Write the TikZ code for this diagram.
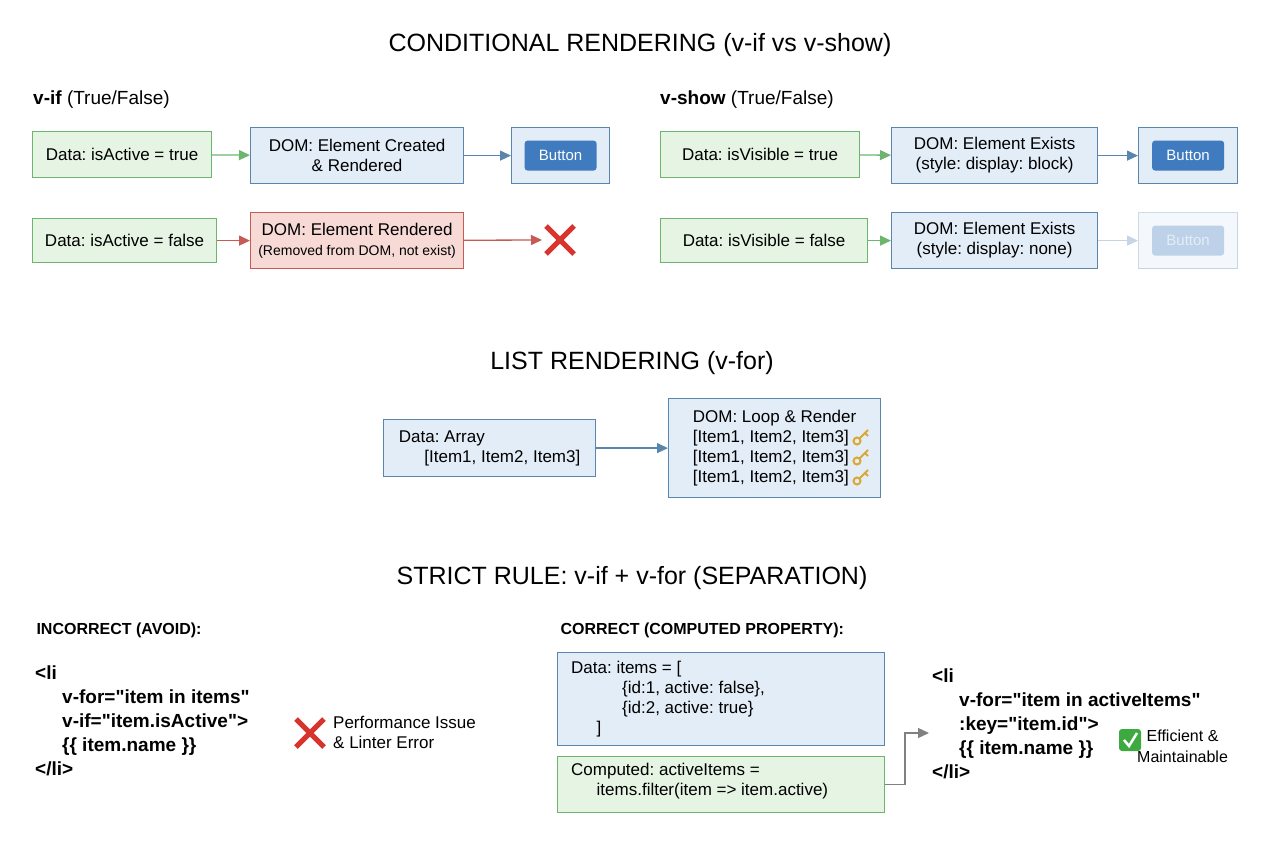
\documentclass[tikz,border=0pt]{standalone}
\usepackage{fontspec}
\setmainfont{Liberation Sans}
\newfontfamily\codefont{Liberation Sans}
\usetikzlibrary{arrows.meta,positioning,calc}
\definecolor{gfill}{HTML}{E6F4E4}
\definecolor{gdraw}{HTML}{6DB56F}
\definecolor{bfill}{HTML}{E3EDF7}
\definecolor{bdraw}{HTML}{5A86AE}
\definecolor{rfill}{HTML}{F7D9D6}
\definecolor{rdraw}{HTML}{C65A55}
\definecolor{btn}{HTML}{3F7BBE}
\definecolor{xred}{HTML}{D8342E}
\definecolor{keyc}{HTML}{D9A934}
\definecolor{okc}{HTML}{3DAA3F}
\newcommand{\redcross}[1]{\draw[xred,line width=5pt] ($(#1)+(-14,-14)$) -- ($(#1)+(14,14)$) ($(#1)+(-14,14)$) -- ($(#1)+(14,-14)$);}
\newcommand{\goldkey}[1]{\draw[keyc,line width=2pt] ($(#1)+(-4,4)$) circle (3.5) ($(#1)+(-1.5,1.5)$) -- ($(#1)+(7,-7)$) ($(#1)+(4,-4)$) -- ($(#1)+(7,-1)$);}
\frenchspacing
\begin{document}
\begin{tikzpicture}[x=1pt,y=-1pt,>={Triangle[length=11pt,width=10pt]}]
        \tikzset{gbox/.style={draw=gdraw, fill=gfill, line width=1.2pt, align=left, font=\fontsize{17}{20}\selectfont, inner sep=0pt, anchor=north west},
        bbox/.style={draw=bdraw, fill=bfill, line width=1.2pt, align=center, font=\fontsize{17}{20}\selectfont, inner sep=0pt, anchor=north west},
        rbox/.style={draw=rdraw, fill=rfill, line width=1.2pt, align=center, font=\fontsize{17}{20}\selectfont, inner sep=0pt, anchor=north west},
        btnin/.style={fill=btn, rounded corners=3pt, text=white, minimum width=72pt, minimum height=30pt, font=\fontsize{15}{18}\selectfont},
        title/.style={font=\fontsize{25}{30}\selectfont},
        head/.style={font=\bfseries\fontsize{16}{19}\selectfont, anchor=west},
        code/.style={font=\codefont\bfseries\fontsize{19}{24}\selectfont, align=left, anchor=north west, inner sep=0pt},
        small/.style={font=\fontsize{17}{20}\selectfont, align=left, inner sep=0pt}
        }
        \useasboundingbox (0,0) rectangle (1264,848);
        %% titles
        \node [title] (t1) at (640,45) {CONDITIONAL RENDERING (v-if vs v-show)};
        \node [title] (t2) at (632,363) {LIST RENDERING (v-for)};
        \node [title] (t3) at (632,578) {STRICT RULE: v-if + v-for (SEPARATION)};
        \node [anchor=west,font=\fontsize{19}{22}\selectfont,inner sep=0pt] (vif) at (33,100) {\textbf{v-if} (True/False)};
        \node [anchor=west,font=\fontsize{19}{22}\selectfont,inner sep=0pt] (vshow) at (660,100) {\textbf{v-show} (True/False)};

%% v-if
        \node [gbox, minimum width=179pt, minimum height=46pt] (ifT) at (32,131) {Data: isActive = true};
        \node [bbox, minimum width=213pt, minimum height=56pt] (ifDom) at (250,127) {DOM: Element Created\\ \& Rendered};
        \node [bbox, minimum width=98pt, minimum height=56pt] (ifBtn) at (511,127) {};
        \node [btnin] (ifBtnIn) at (ifBtn.center) {Button};
        \node [gbox, minimum width=184pt, minimum height=44pt] (ifF) at (32,218) {Data: isActive = false};
        \node [rbox, minimum width=213pt, minimum height=56pt] (ifNo) at (250,212) {DOM: Element Rendered\\{\fontsize{14}{17}\selectfont (Removed from DOM, not exist)}};
        \coordinate (ifX) at (560,240);
        \redcross{ifX}

%% v-show
        \node [gbox, minimum width=199pt, minimum height=46pt] (shT) at (660,131) {Data: isVisible = true};
        \node [bbox, minimum width=206pt, minimum height=56pt] (shDom) at (891,127) {DOM: Element Exists\\ (style: display: block)};
        \node [bbox, minimum width=99pt, minimum height=56pt] (shBtn) at (1138,127) {};
        \node [btnin] (shBtnIn) at (shBtn.center) {Button};
        \node [gbox, minimum width=207pt, minimum height=44pt] (shF) at (660,218) {Data: isVisible = false};
        \node [bbox, minimum width=206pt, minimum height=56pt] (shNone) at (891,212) {DOM: Element Exists\\ (style: display: none)};
        \node [bbox, draw opacity=0.3, fill opacity=0.4, minimum width=99pt, minimum height=56pt] (shGhost) at (1138,212) {};
        \node [btnin, fill opacity=0.3, text opacity=0.6] (shGhostIn) at (shGhost.center) {Button};

%% v-for
        \node [bbox, align=left, minimum width=212pt, minimum height=57pt] (arr) at (383,419) {Data: Array\hspace{5.5em}\\ \hspace{1.5em}{[}Item1, Item2, Item3]\hspace{1em}};
        \node [bbox, align=left, minimum width=212pt, minimum height=99pt] (loop) at (668,398) {DOM: Loop \& Render\hspace{1.5em}\\ {[}Item1, Item2, Item3]\hspace{1.5em}\\ {[}Item1, Item2, Item3]\hspace{1.5em}\\ {[}Item1, Item2, Item3]\hspace{1.5em}};
        \foreach \ky in {437,457,477} {
            \coordinate (k\ky) at (861,\ky);
            \goldkey{k\ky}
        }

%% strict rule
        \node [head] (bad) at (33,630) {INCORRECT (AVOID):};
        \node [code] (badCode) at (35,666) {<li\\ \hspace{27pt}v-for="item in items"\\ \hspace{27pt}v-if="item.isActive">\\ \hspace{27pt}\{\{ item.name \}\}\\ </li>};
        \coordinate (badX) at (310,733);
        \redcross{badX}
        \node [small, anchor=west] (badTxt) at (333,732) {Performance Issue\\ \& Linter Error};
        \node [head] (good) at (557,630) {CORRECT (COMPUTED PROPERTY):};
        \node [bbox, minimum width=327pt, minimum height=93pt] (items) at (557,652) {};
        \node [small, anchor=north west] (itemsTxt) at (571,661) {Data: items = {[}\\ \hspace{3em}\{id:1, active: false\},\\ \hspace{3em}\{id:2, active: true\}\\ \hspace{1.5em}]};
        \node [gbox, minimum width=327pt, minimum height=56pt] (comp) at (557,756) {};
        \node [small, anchor=north west] (compTxt) at (571,763) {Computed: activeItems =\\ \hspace{1.5em}items.filter(item => item.active)};
        \node [code] (goodCode) at (932,669) {<li\\ \hspace{27pt}v-for="item in activeItems"\\ \hspace{27pt}:key="item.id">\\ \hspace{27pt}\{\{ item.name \}\}\\ </li>};
        \node [fill=okc, rounded corners=3pt, minimum size=22pt, inner sep=0pt] (ok) at (1130,740) {};
        \draw [white, line width=2.5pt] ($(ok)+(-6,0)$) -- ($(ok)+(-1,6)$) -- ($(ok)+(7,-7)$);
        \node [small, align=center, anchor=north west, font=\fontsize{16}{21}\selectfont] (okTxt) at (1137,730) {Efficient \&\\ Maintainable};
        \coordinate (bend) at (905,733);

%% paths
        \path[draw,->,line width=1.3pt,gdraw] (ifT) edge (ifDom)
                    (shT) edge (shDom);
        \path[draw,->,line width=1.3pt,bdraw] (ifDom) edge (ifBtn)
                    (shDom) edge (shBtn)
                    (arr) edge (loop);
        \path[draw,->,line width=1.3pt,rdraw] (ifF) edge (ifNo)
                    (ifNo) edge ($(ifX)+(-18,0)$);
        \draw[->,line width=1.3pt,gdraw] (shF) -- (shNone);
        \draw[->,line width=1.3pt,bdraw!35] (shNone) -- (shGhost);
        \draw[->,line width=1.3pt,gray] (comp.east) -| (bend) -- ++(24,0);
    \end{tikzpicture}
\end{document}
